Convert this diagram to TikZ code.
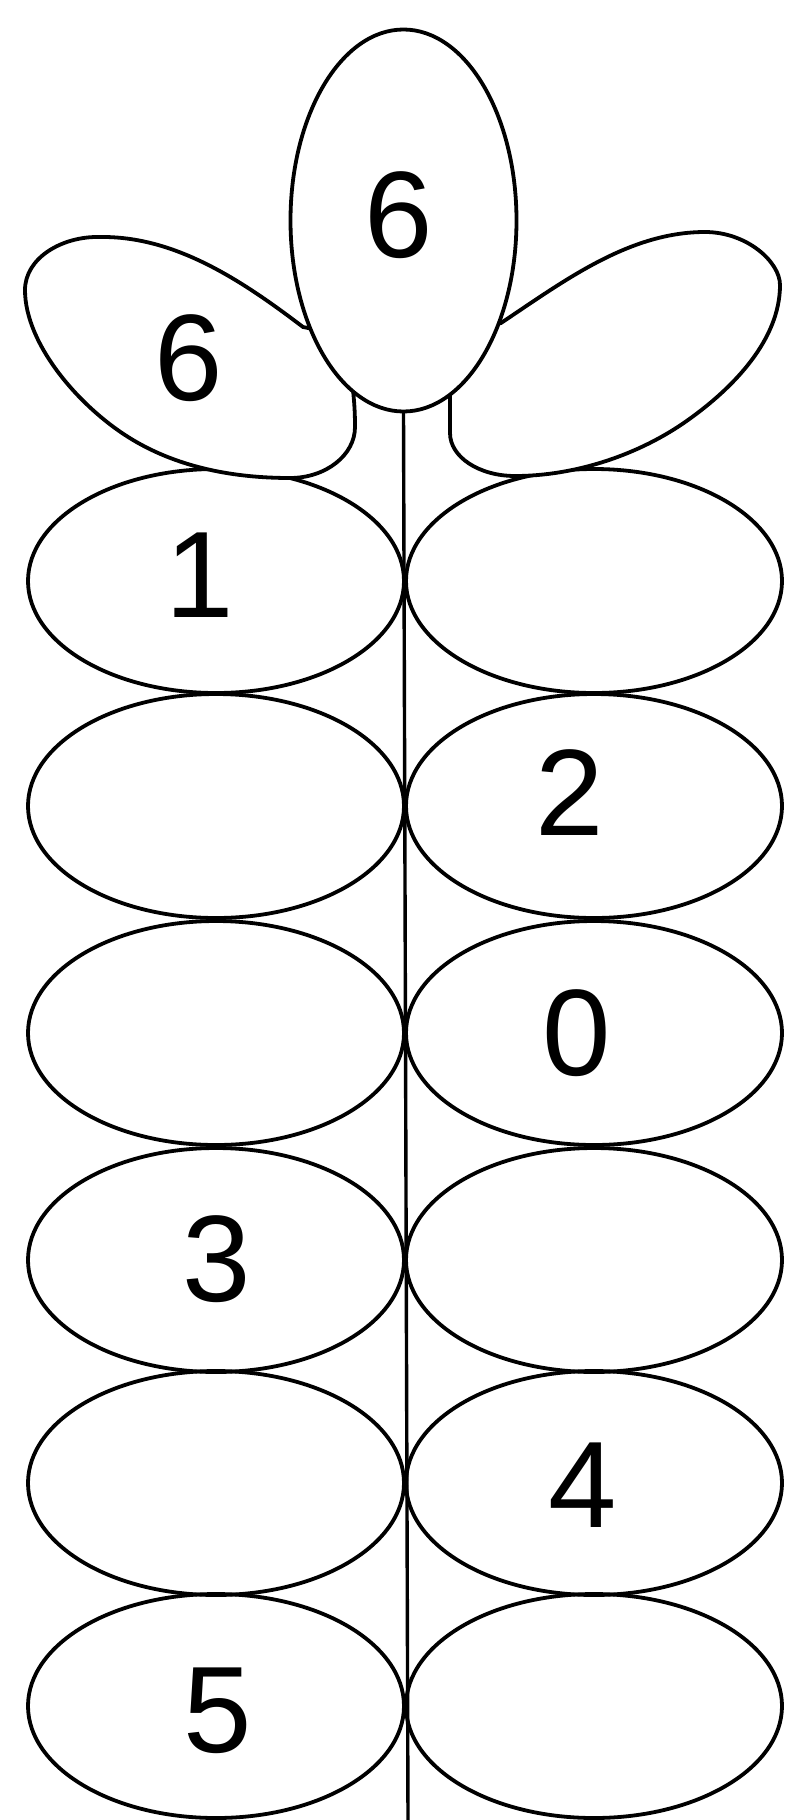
\documentclass[tikz,border=0pt]{standalone}
\usepackage{fontspec}
\setmainfont{Liberation Sans}
\begin{document}
\begin{tikzpicture}[x=1pt,y=-1pt,
  outline/.style={draw=black,line width=3.8pt},
  petal/.style={outline,fill=white},
  lbl/.style={inner sep=0pt,font=\fontsize{123}{123}\selectfont}]
\useasboundingbox (0,0) rectangle (788,1820);
% rows of paired leaves
\foreach \y in {581,806,1033,1260,1483,1706}{
  \draw[outline] (216,\y) ellipse [x radius=188,y radius=112];
  \draw[outline] (594,\y) ellipse [x radius=188,y radius=112];
}
% upper left petal
\draw[petal] (303,327) .. controls (240,279) and (174,236) .. (100,237)
  .. controls (62,236) and (25,258) .. (25,290)
  .. controls (25,345) and (81,409) .. (133,440)
  .. controls (180,468) and (235,478) .. (290,478)
  .. controls (326,478) and (355,455) .. (355,427)
  .. controls (355,410) and (354,400) .. (353,390)
  -- (370,340) -- cycle;
% upper right petal
\draw[petal] (501,323) .. controls (564,281) and (629,232) .. (705,232)
  .. controls (747,232) and (780,262) .. (780,285)
  .. controls (780,340) and (733,388) .. (688,420)
  .. controls (639,455) and (575,476) .. (515,476)
  .. controls (479,476) and (450,457) .. (450,433)
  .. controls (450,415) and (450,405) .. (450,392)
  -- (435,340) -- cycle;
% top petal
\draw[petal] (403.5,220.5) ellipse [x radius=113,y radius=191];
% stem
\coordinate (stemtop) at (403.5,411.5);
\coordinate (stembot) at (408,1820);
\draw[line width=3.4pt] (stemtop) -- (stembot);
% labels
\node[lbl] (t6) at (399,215) {6};
\node[lbl] (p6) at (189,358) {6};
\node[lbl] (n1) at (200,575) {1};
\node[lbl] (n2) at (570,793) {2};
\node[lbl] (n0) at (577,1033) {0};
\node[lbl] (n3) at (217,1259) {3};
\node[lbl] (n4) at (583,1485) {4};
\node[lbl] (n5) at (218,1711) {5};
\end{tikzpicture}
\end{document}
